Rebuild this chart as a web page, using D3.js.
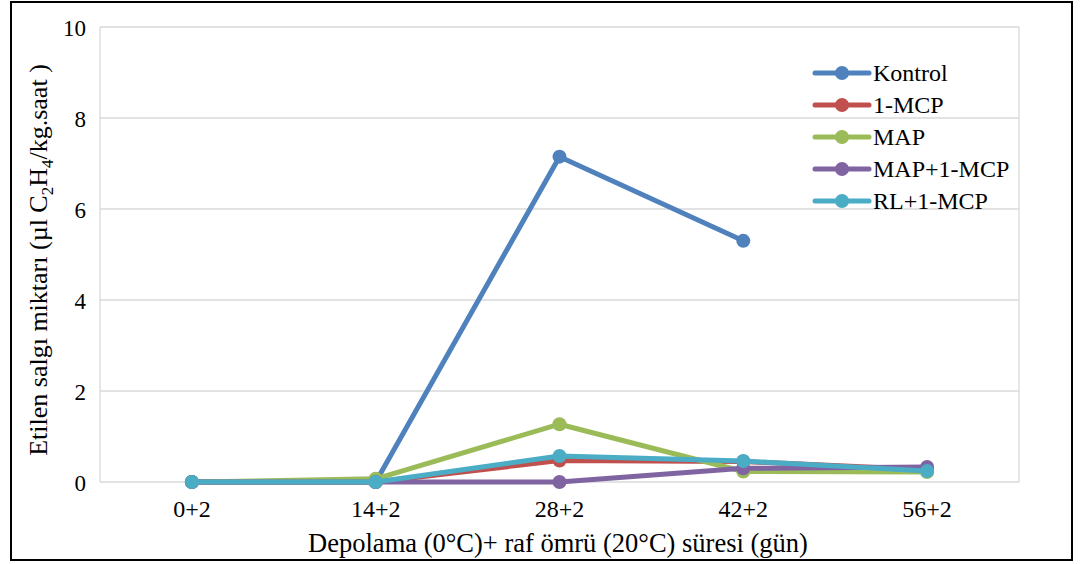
<!DOCTYPE html>
<html>
<head>
<meta charset="utf-8">
<script src="https://cdn.jsdelivr.net/npm/d3@7"></script>
<style>
  body { margin: 0; background: #fff; }
  text { font-family: "Liberation Serif", "Times New Roman", serif; fill: #000; }
</style>
</head>
<body>
<svg width="1085" height="564"></svg>
<script>
// data
const categories = ["0+2", "14+2", "28+2", "42+2", "56+2"];
const seriesNames = ["Kontrol", "1-MCP", "MAP", "MAP+1-MCP", "RL+1-MCP"];
const colors = ["#4f81bd", "#c0504d", "#9bbb59", "#8064a2", "#4bacc6"];
const kontrol = [0, 0, 7.15, 5.3, null];
const mcp = [0, 0, 0.47, 0.45, 0.27];
const map = [0, 0.07, 1.27, 0.23, 0.22];
const mapMcp = [0, 0, 0, 0.3, 0.33];
const rlMcp = [0, 0, 0.57, 0.46, 0.24];
const yTicks = [0, 2, 4, 6, 8, 10];

const allSeries = [kontrol, mcp, map, mapMcp, rlMcp];

const svg = d3.select("svg");
const plot = {left: 100, right: 1019, top: 27, bottom: 482};

const x = d3.scaleBand().domain(categories).range([plot.left, plot.right]);
const y = d3.scaleLinear().domain([0, 10]).range([plot.bottom, plot.top]);

// outer frame
svg.append("rect").attr("x", 11).attr("y", 2).attr("width", 1061).attr("height", 558)
  .attr("fill", "none").attr("stroke", "#000").attr("stroke-width", 2);

// gridlines
svg.append("g").selectAll("line").data(yTicks).enter().append("line")
  .attr("x1", plot.left).attr("x2", plot.right)
  .attr("y1", d => y(d)).attr("y2", d => y(d))
  .attr("stroke", "#d9d9d9").attr("stroke-width", 1.3);
// plot sides
svg.append("line").attr("x1", plot.left).attr("x2", plot.left).attr("y1", plot.top).attr("y2", plot.bottom)
  .attr("stroke", "#d9d9d9").attr("stroke-width", 1.3);
svg.append("line").attr("x1", plot.right).attr("x2", plot.right).attr("y1", plot.top).attr("y2", plot.bottom)
  .attr("stroke", "#d9d9d9").attr("stroke-width", 1.3);

// y axis
const yAxis = svg.append("g").attr("transform", `translate(${plot.left - 14},0)`)
  .call(d3.axisLeft(y).tickValues(yTicks).tickSize(0).tickPadding(0));
yAxis.select(".domain").remove();
yAxis.selectAll("text").style("font-size", "23px").attr("dy", "0.35em");

// x axis
const xAxis = svg.append("g").attr("transform", `translate(0,${plot.bottom + 18})`)
  .call(d3.axisBottom(x).tickSize(0).tickPadding(0));
xAxis.select(".domain").remove();
xAxis.selectAll("text").style("font-size", "24px").attr("dy", "0.72em");

// axis titles
svg.append("text").attr("x", 558).attr("y", 552).attr("text-anchor", "middle")
  .style("font-size", "26.5px").text("Depolama (0°C)+ raf ömrü (20°C) süresi (gün)");

const yt = svg.append("text").attr("transform", "translate(47,260) rotate(-90)")
  .attr("text-anchor", "middle").style("font-size", "26px");
yt.append("tspan").text("Etilen salgı miktarı (µl C");
yt.append("tspan").attr("dy", 6).style("font-size", "17px").text("2");
yt.append("tspan").attr("dy", -6).text("H");
yt.append("tspan").attr("dy", 6).style("font-size", "17px").text("4");
yt.append("tspan").attr("dy", -6).text("/kg.saat )");

// lines
const line = d3.line()
  .defined(d => d != null)
  .x((d, i) => x(categories[i]) + x.bandwidth() / 2)
  .y(d => y(d));

allSeries.forEach((vals, s) => {
  const g = svg.append("g");
  g.append("path").datum(vals).attr("d", line)
    .attr("fill", "none").attr("stroke", colors[s]).attr("stroke-width", 5)
    .attr("stroke-linejoin", "round").attr("stroke-linecap", "round");
  g.selectAll("circle").data(vals.map((v, i) => ({v, i})).filter(d => d.v != null))
    .enter().append("circle")
    .attr("cx", d => x(categories[d.i]) + x.bandwidth() / 2)
    .attr("cy", d => y(d.v)).attr("r", 7).attr("fill", colors[s]);
});

// legend
const leg = svg.append("g").attr("transform", "translate(815,73)");
seriesNames.forEach((name, i) => {
  const g = leg.append("g").attr("transform", `translate(0,${i * 32})`);
  g.append("line").attr("x1", 0).attr("x2", 54).attr("stroke", colors[i])
    .attr("stroke-width", 5).attr("stroke-linecap", "round");
  g.append("circle").attr("cx", 27).attr("r", 7).attr("fill", colors[i]);
  g.append("text").attr("x", 58).attr("dy", "0.35em").style("font-size", "24px").text(name);
});
</script>
</body>
</html>
